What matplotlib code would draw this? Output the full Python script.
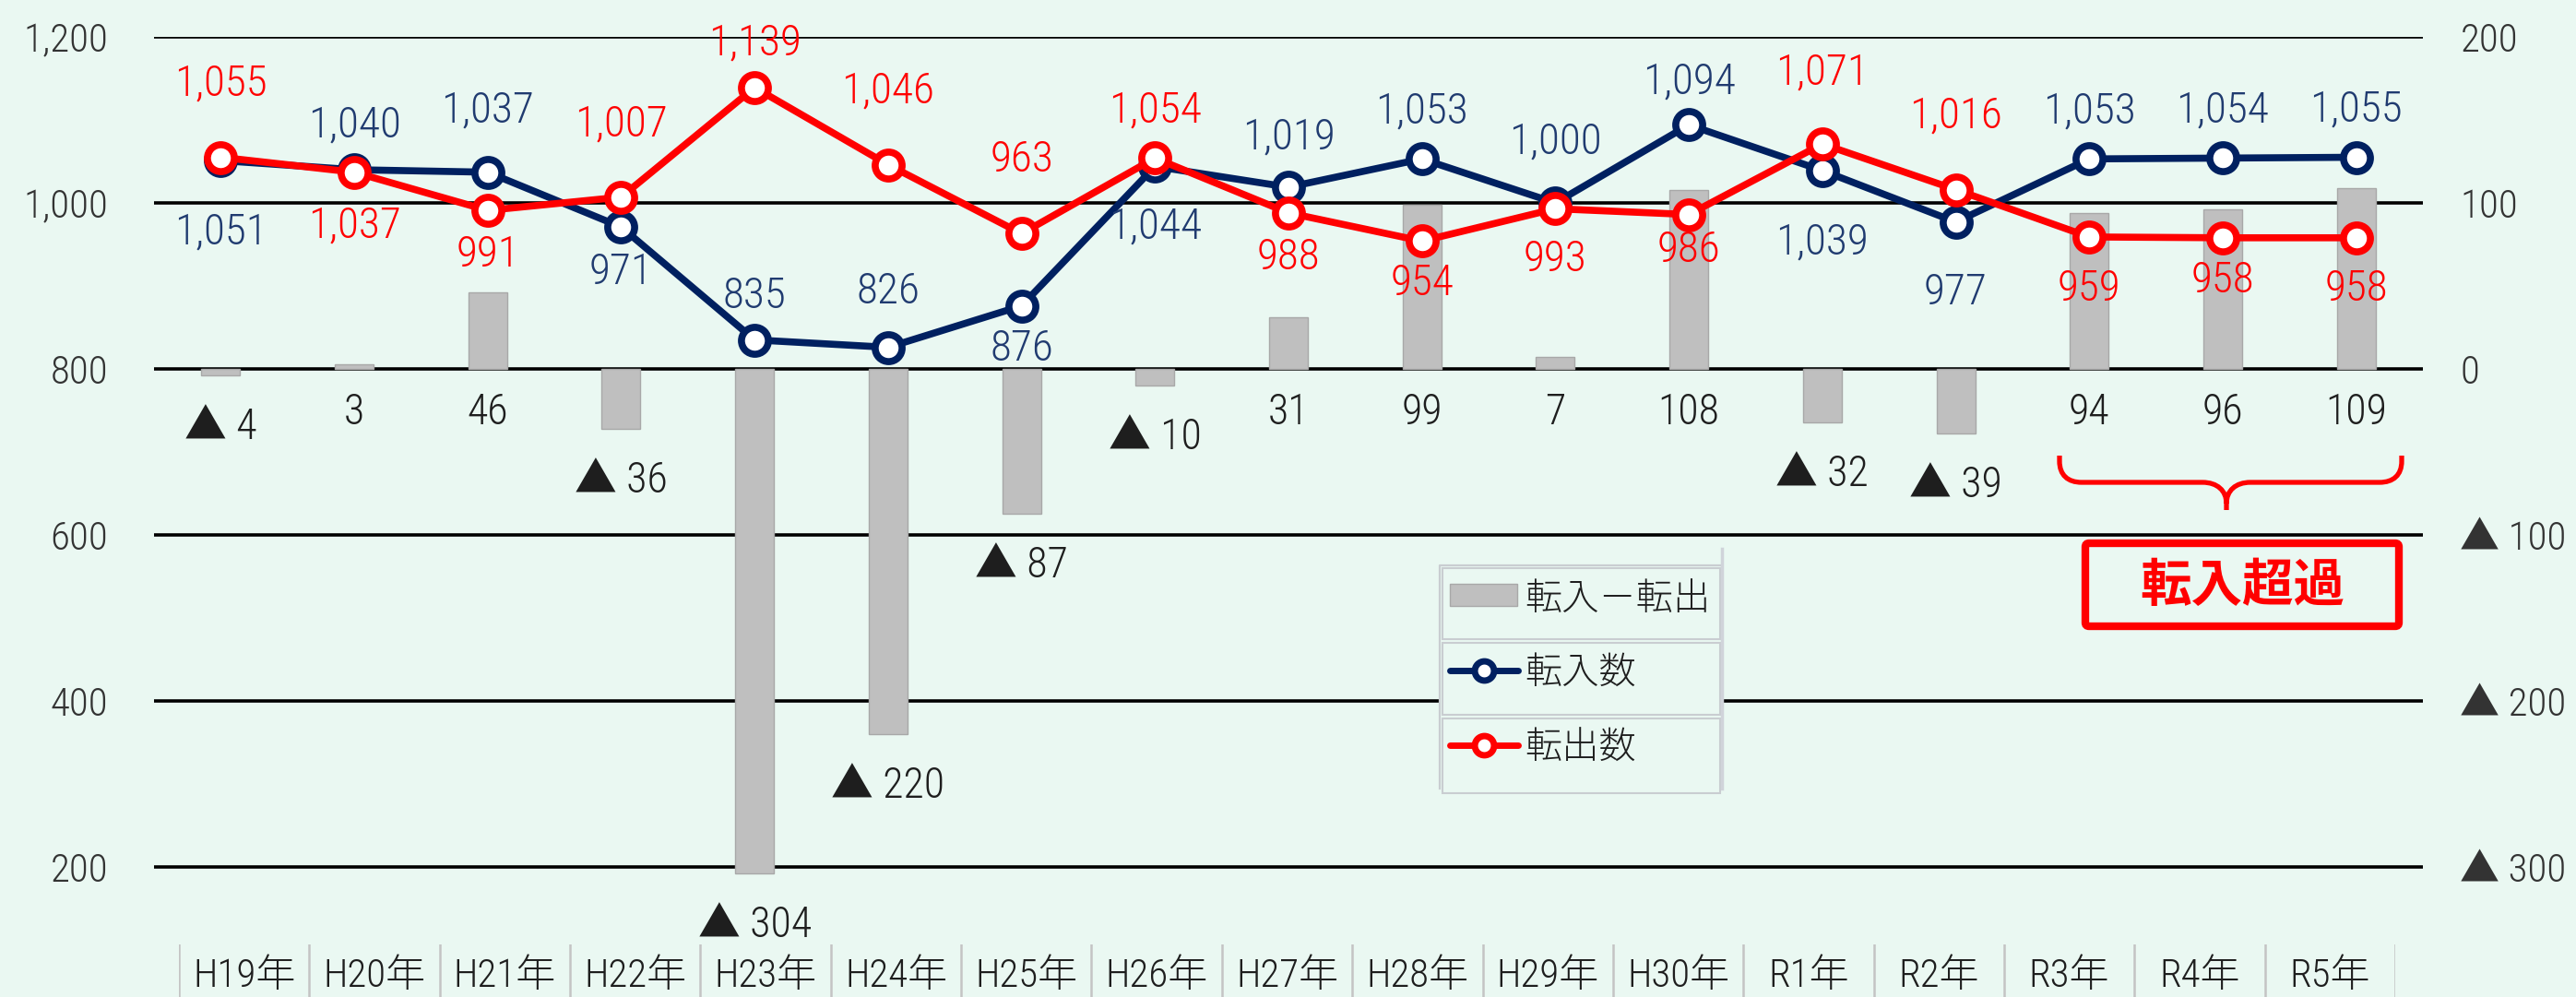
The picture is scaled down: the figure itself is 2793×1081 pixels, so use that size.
import numpy as np
import matplotlib
matplotlib.use('Agg')
import matplotlib.pyplot as plt
from matplotlib.patches import Rectangle, FancyBboxPatch, PathPatch
from matplotlib.path import Path
from matplotlib.lines import Line2D
from matplotlib import font_manager

# ---------------- data ----------------
categories = ['H19年', 'H20年', 'H21年', 'H22年', 'H23年', 'H24年', 'H25年', 'H26年',
              'H27年', 'H28年', 'H29年', 'H30年', 'R1年', 'R2年', 'R3年', 'R4年', 'R5年']
moved_in = [1051, 1040, 1037, 971, 835, 826, 876, 1044, 1019, 1053, 1000, 1094,
            1039, 977, 1053, 1054, 1055]
moved_out = [1055, 1037, 991, 1007, 1139, 1046, 963, 1054, 988, 954, 993, 986,
             1071, 1016, 959, 958, 958]
net_migration = [-4, 3, 46, -36, -304, -220, -87, -10, 31, 99, 7, 108,
                 -32, -39, 94, 96, 109]

left_ticks = [200, 400, 600, 800, 1000, 1200]
left_tick_labels = ['200', '400', '600', '800', '1,000', '1,200']
right_ticks = [-300, -200, -100, 0, 100, 200]
right_tick_labels = ['▲ 300', '▲ 200', '▲ 100', '0', '100', '200']

series_names = ['転入－転出', '転入数', '転出数']
callout_text = '転入超過'

# label vertical offsets in pixels (layout only)
in_label_dy = [-77, 49, 67, -49, 48, 61, -46, -65, 54, 52, 67, 47, -78, -76, 52, 52, 52]
out_label_dy = [80, -58, -48, 79, 48, 80, 80, 52, -48, -46, -55, -38, 78, 80, -56, -46, -55]

# ---------------- fonts ----------------
names = {f.name for f in font_manager.fontManager.ttflist}
narrow = 'Roboto Condensed' if 'Roboto Condensed' in names else 'Liberation Sans'
NUM = [narrow, 'Noto Sans CJK JP', 'DejaVu Sans']
CJK = ['Noto Sans CJK JP', 'DejaVu Sans']
plt.rcParams['font.family'] = NUM
plt.rcParams['font.weight'] = 300

BG = '#EAF8F2'
NAVY = '#002060'
NAVY_TXT = '#203B70'
RED = '#FF0000'
BAR = '#BFBFBF'
BAR_EDGE = '#A8A8A8'
TXT = '#1E1E1E'

FS_TICK = 31
FS_LAB = 34
FS_BAR = 33
FS_CAT = 31

W, H = 2793, 1081
fig = plt.figure(figsize=(W / 100, H / 100), dpi=100)
fig.patch.set_facecolor(BG)

ax_l, ax_r, ax_t, ax_b = 167, 2627, 40, 1024
ax = fig.add_axes([ax_l / W, 1 - ax_b / H, (ax_r - ax_l) / W, (ax_b - ax_t) / H])
ax.set_facecolor(BG)
ax2 = ax.twinx()

x = np.arange(len(categories))

# bars on right (net) scale
ax.set_xlim(-0.5, len(categories) - 0.5)
ax.set_ylim(-346.7, 200)
for v in right_ticks:
    ax.axhline(v, color='black', lw=2.6, zorder=0.5)
ax.bar(x, net_migration, width=0.29, color=BAR, edgecolor=BAR_EDGE, linewidth=1.0, zorder=1)

for i, v in enumerate(net_migration):
    if v >= 0:
        ax.annotate(f'{v}', xy=(i, 0), xytext=(0, -47), textcoords='offset pixels',
                    ha='center', va='center', fontsize=FS_BAR, color=TXT, family=NUM)
    else:
        ax.annotate(f'▲ {abs(v)}', xy=(i, v), xytext=(0, -56), textcoords='offset pixels',
                    ha='center', va='center', fontsize=FS_BAR, color=TXT, family=NUM)

ax.yaxis.tick_right()
ax.set_yticks(right_ticks)
ax.set_yticklabels(right_tick_labels)
ax.tick_params(axis='y', length=0, pad=29, labelsize=FS_TICK, labelcolor='#333333')
ax.set_xticks([])
for s in ax.spines.values():
    s.set_visible(False)
for t in ax.get_yticklabels():
    t.set_ha('left')
    t.set_family(NUM)

# lines on left scale
ax2.set_xlim(-0.5, len(categories) - 0.5)
ax2.set_ylim(106.7, 1200)
ax2.plot(x, moved_in, color=NAVY, lw=5.5, marker='o', ms=21, mew=5.5, mfc='white',
         mec=NAVY, zorder=3, solid_capstyle='round')
ax2.plot(x, moved_out, color=RED, lw=5.5, marker='o', ms=21, mew=5.5, mfc='white',
         mec=RED, zorder=4, solid_capstyle='round')
for i, v in enumerate(moved_in):
    ax2.annotate(f'{v:,}', xy=(i, v), xytext=(0, in_label_dy[i]), textcoords='offset pixels',
                 ha='center', va='center', fontsize=FS_LAB, color=NAVY_TXT, family=NUM, zorder=6)
for i, v in enumerate(moved_out):
    ax2.annotate(f'{v:,}', xy=(i, v), xytext=(0, out_label_dy[i]), textcoords='offset pixels',
                 ha='center', va='center', fontsize=FS_LAB, color=RED, family=NUM, zorder=6)

ax2.yaxis.tick_left()
ax2.set_yticks(left_ticks)
ax2.set_yticklabels(left_tick_labels)
ax2.tick_params(axis='y', length=0, pad=36, labelsize=FS_TICK, labelcolor='#333333')
ax2.set_xticks([])
for s in ax2.spines.values():
    s.set_visible(False)

# ---------------- category table ----------------
tb_l, tb_r = 194, 2597
axt = fig.add_axes([tb_l / W, 0, (tb_r - tb_l) / W, (H - ax_b) / H])
axt.set_xlim(0, len(categories))
axt.set_ylim(0, 1)
axt.axis('off')
for k in range(len(categories) + 1):
    axt.axvline(k, color='#C4C4C4', lw=1.8)
for i, c in enumerate(categories):
    axt.text(i + 0.5, 0.40, c, ha='center', va='center', fontsize=FS_CAT, color=TXT, family=NUM)

# ---------------- overlay (legend, callout) ----------------
ov = fig.add_axes([0, 0, 1, 1])
ov.set_xlim(0, W)
ov.set_ylim(H, 0)
ov.axis('off')
ov.set_zorder(10)

frame_c = '#C9CDD1'
ov.add_patch(Rectangle((1561, 613), 1867 - 1561, 855 - 613, facecolor=BG, edgecolor='none'))
ov.plot([1561, 1561, 1867], [855, 613, 613], color=frame_c, lw=1.6)
ov.plot([1867, 1867], [595, 855], color='#D0D4DA', lw=2.5)
for (y0, y1) in [(616, 693), (697, 775), (779, 860)]:
    ov.add_patch(Rectangle((1564, y0), 1865 - 1564, y1 - y0, facecolor=BG,
                           edgecolor=frame_c, lw=1.5))
ov.add_patch(Rectangle((1572, 633), 73, 24, facecolor=BAR, edgecolor=BAR_EDGE, lw=1.0))
ov.add_line(Line2D([1572, 1646], [727, 727], color=NAVY, lw=5, solid_capstyle='round'))
ov.add_line(Line2D([1609], [727], marker='o', ms=15, mew=5, mfc='white', mec=NAVY, lw=0))
ov.add_line(Line2D([1572, 1646], [808, 808], color=RED, lw=5, solid_capstyle='round'))
ov.add_line(Line2D([1609], [808], marker='o', ms=15, mew=5, mfc='white', mec=RED, lw=0))
for name, yc in zip(series_names, [650, 730, 812]):
    ov.text(1653, yc, name, ha='left', va='center', fontsize=29, color=TXT, family=CJK)

# brace
verts = [(2233, 494), (2233, 500),
         (2233, 515), (2242, 523), (2257, 523),
         (2388, 523),
         (2404, 523), (2414, 532), (2414, 546),
         (2414, 553),
         (2414, 546),
         (2414, 532), (2424, 523), (2440, 523),
         (2580, 523),
         (2595, 523), (2604, 515), (2604, 500),
         (2604, 494)]
codes = [Path.MOVETO, Path.LINETO,
         Path.CURVE4, Path.CURVE4, Path.CURVE4,
         Path.LINETO,
         Path.CURVE4, Path.CURVE4, Path.CURVE4,
         Path.LINETO,
         Path.MOVETO,
         Path.CURVE4, Path.CURVE4, Path.CURVE4,
         Path.LINETO,
         Path.CURVE4, Path.CURVE4, Path.CURVE4,
         Path.LINETO]
ov.add_patch(PathPatch(Path(verts, codes), facecolor='none', edgecolor=RED, lw=3.8,
                       capstyle='butt'))

# callout box
ov.add_patch(FancyBboxPatch((2261, 589), 2601 - 2261, 679 - 589,
                            boxstyle='round,pad=0,rounding_size=4',
                            facecolor=BG, edgecolor=RED, lw=6))
ov.text(2431, 636, callout_text, ha='center', va='center', fontsize=40,
        fontweight='bold', color=RED, family=CJK)

fig.savefig('out.png', dpi=100, facecolor=BG)
